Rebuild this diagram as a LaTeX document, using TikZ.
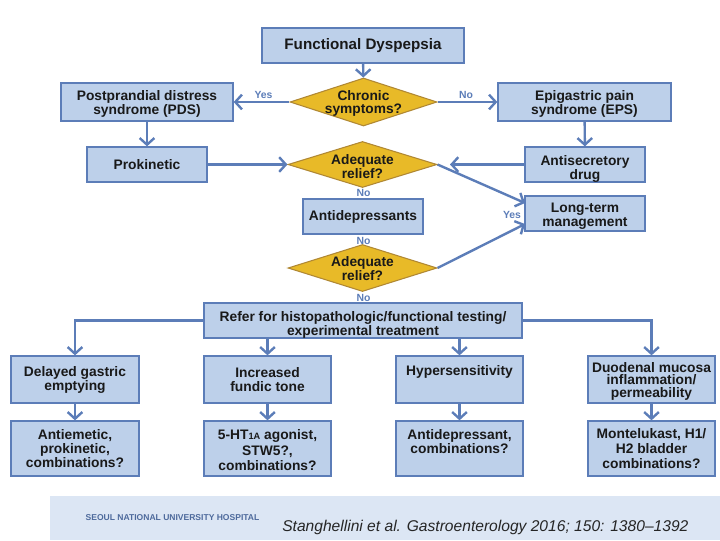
\documentclass[tikz,border=0pt]{standalone}
\usepackage{fontspec}
\setmainfont{Liberation Sans}
\usetikzlibrary{arrows.meta,shapes.geometric}
\definecolor{boxfill}{RGB}{189,208,234}
\definecolor{boxline}{RGB}{92,125,184}
\definecolor{diafill}{RGB}{232,186,40}
\definecolor{dialine}{RGB}{176,136,52}
\definecolor{footfill}{RGB}{220,230,244}
\newcommand{\drop}[1]{\rule{0pt}{#1pt}}
\tikzset{
  wh/.style 2 args={minimum width=#1*0.75pt,minimum height=#2*0.75pt},
  flowbox/.style={draw=boxline,fill=boxfill,line width=1pt,inner sep=0pt,align=center,text=black!90,
    font=\bfseries\fontsize{10.35}{10.5}\selectfont},
  flowdia/.style={diamond,shape aspect=3.1,draw=dialine,fill=diafill,line width=0.8pt,inner xsep=-6pt,inner ysep=-1pt,align=center,text=black!90,
    font=\bfseries\fontsize{10.3}{10.4}\selectfont},
  flowarr/.style={draw=boxline,line width=1.8pt,-{Straight Barb[length=5pt,width=11pt]}},
  answer/.style={text=boxline,inner sep=0pt,font=\bfseries\fontsize{7.8}{8}\selectfont},
}
\begin{document}
\begin{tikzpicture}[x=0.75pt,y=0.75pt,yscale=-1,xscale=1]
\useasboundingbox (0,0) rectangle (720,540);

%footer
\fill [footfill] (50,496) rectangle (720,540);
\node (hospital) [inner sep=0pt,text=boxline!85!black,font=\bfseries\fontsize{6.4}{7}\selectfont] at (172.5,518) {SEOUL NATIONAL UNIVERSITY HOSPITAL};
\node (citation) [inner sep=0pt,anchor=west,text=black!85,font=\itshape\fontsize{11.7}{12}\selectfont] at (282,527) {Stanghellini et al. Gastroenterology 2016; 150: 1380--1392};

%top part
\node (fd) [flowbox,wh={202}{35},font=\bfseries\fontsize{11.4}{11}\selectfont] at (363,45.5) {Functional Dyspepsia};
\node (chronic) [flowdia,wh={147}{48}] at (363.5,102) {\drop{9.7}Chronic\\symptoms?};
\node (pds) [flowbox,wh={172}{38}] at (147,102) {\drop{10.5}Postprandial distress\\syndrome (PDS)};
\node (eps) [flowbox,wh={173}{38}] at (584.5,102) {\drop{10.5}Epigastric pain\\syndrome (EPS)};
\node (proki) [flowbox,wh={120}{35}] at (147,164.5) {Prokinetic};
\node (antisec) [flowbox,wh={120}{35}] at (585,164.5) {\drop{13.5}Antisecretory\\drug};
\node (relief1) [flowdia,wh={149}{46}] at (362.5,164.5) {\drop{11}Adequate\\relief?};
\node (antidep) [flowbox,wh={120}{35}] at (363,216.5) {Antidepressants};
\node (longterm) [flowbox,wh={120}{35}] at (585,213.5) {\drop{11}Long-term\\management};
\node (relief2) [flowdia,wh={149}{47}] at (362.5,268) {\drop{8}Adequate\\relief?};
\node (refer) [flowbox,wh={318}{35}] at (363,320.5) {\drop{13.5}Refer for histopathologic/functional testing/\\experimental treatment};

%mechanisms and treatments
\node (delayed) [flowbox,wh={128}{47}] at (75,379.5) {Delayed gastric\\emptying};
\node (fundic) [flowbox,wh={127}{47}] at (267.5,379.5) {Increased\\fundic tone};
\node (hyper) [flowbox,wh={127}{47}] at (459.5,379.5) {Hypersensitivity\\[3pt]\ };
\node (duoden) [flowbox,wh={127}{47},font=\bfseries\fontsize{10.35}{9}\selectfont] at (651.5,379.5) {\drop{10.5}Duodenal mucosa\\inflammation/\\[1pt]permeability};
\node (antiem) [flowbox,wh={128}{55}] at (75,448.5) {Antiemetic,\\prokinetic,\\combinations?};
\node (ht) [flowbox,wh={127}{55},font=\bfseries\fontsize{10.35}{11.4}\selectfont] at (267.5,448.5) {\drop{10}5-HT{\fontsize{6.9}{7}\selectfont 1A} agonist,\\STW5?,\\combinations?};
\node (adcomb) [flowbox,wh={127}{55}] at (459.5,448.5) {Antidepressant,\\combinations?\\\ };
\node (monte) [flowbox,wh={127}{55},font=\bfseries\fontsize{10.35}{11.4}\selectfont] at (651.5,448.5) {Montelukast, H1/\\H2 bladder\\combinations?};

%free ends
\coordinate (lta) at (525,203);
\coordinate (ltb) at (525,224);
\coordinate (sectip) at (450,164.5);

\draw [flowarr] (fd) -- (chronic);
\draw [flowarr] (chronic) -- (pds);
\draw [flowarr] (chronic) -- (eps);
\draw [flowarr] (pds) -- (proki);
\draw [flowarr] (eps) -- (antisec);
\draw [flowarr] (proki) -- (relief1);
\draw [flowarr] (antisec) -- (sectip);
\draw [flowarr] (relief1.east) -- (lta);
\draw [flowarr] (relief2.east) -- (ltb);
\draw [flowarr] (refer.west) -| (delayed.north);
\draw [flowarr] (refer.east) -| (duoden.north);
\draw [flowarr] (refer.south -| fundic.north) -- (fundic.north);
\draw [flowarr] (refer.south -| hyper.north) -- (hyper.north);
\draw [flowarr] (delayed) -- (antiem);
\draw [flowarr] (fundic) -- (ht);
\draw [flowarr] (hyper) -- (adcomb);
\draw [flowarr] (duoden) -- (monte);

\node (yes1) [answer] at (263.5,95) {Yes};
\node (no1) [answer] at (466,95) {No};
\node (no2) [answer] at (363.5,193) {No};
\node (yes2) [answer] at (512,215) {Yes};
\node (no3) [answer] at (363.5,240.5) {No};
\node (no4) [answer] at (363.5,298) {No};
\end{tikzpicture}
\end{document}
